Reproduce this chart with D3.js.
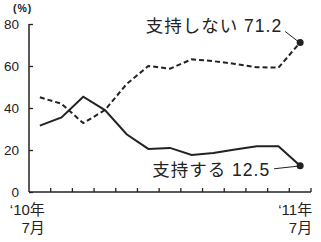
<!DOCTYPE html>
<html>
<head>
<meta charset="utf-8">
<script src="https://cdn.jsdelivr.net/npm/d3@7"></script>
<style>
  body { margin: 0; background: #fff; }
  text { font-family: "Liberation Sans", "Noto Sans CJK JP", sans-serif; fill: #222; }
</style>
</head>
<body>
<div id="chart"></div>
<script>
// monthly poll, Jul 2010 -> Jul 2011
var months = ['2010-07','2010-08','2010-09','2010-10','2010-11','2010-12','2011-01',
              '2011-02','2011-03','2011-04','2011-05','2011-06','2011-07'];
var support = [31.6, 35.5, 45.4, 39, 27.5, 20.5, 21, 17.6, 18.6, 20.2, 21.8, 21.8, 12.5];
var oppose  = [45.1, 42, 32.8, 39, 51.4, 60, 58.7, 63.2, 62.3, 61, 59.4, 59.2, 71.2];
var yTicks = [0, 20, 40, 60, 80];

var svgWidth = 321, svgHeight = 242;
var margin = { top: 24, right: 10, bottom: 50, left: 29 };
var width = svgWidth - margin.left - margin.right;
var height = svgHeight - margin.top - margin.bottom;

var svg = d3.select('#chart').append('svg')
  .attr('width', svgWidth)
  .attr('height', svgHeight);

var chart = svg.append('g')
  .attr('transform', `translate(${margin.left}, ${margin.top})`);

// band per month, points sit in the middle of each band
var x = d3.scaleBand().domain(months).range([0, width]);
var xPos = d => x(d) + x.bandwidth() / 2;
var y = d3.scaleLinear().domain([0, 80]).range([height, 0]);

// y axis, ticks point inward
var yAxis = chart.append('g')
  .call(d3.axisLeft(y).tickValues(yTicks).tickSize(-4).tickPadding(10));
yAxis.select('.domain').attr('d', `M0,0V${height}`).attr('stroke', '#222').attr('stroke-width', 1.5);
yAxis.selectAll('.tick line').attr('stroke', '#222').attr('stroke-width', 1.3);
yAxis.selectAll('.tick text').attr('font-size', '13.5px').attr('fill', '#222');

// x axis, tick marks on month boundaries
var bounds = months.map(m => x(m)).concat([width]);
var xAxis = chart.append('g').attr('transform', `translate(0,${height})`);
xAxis.append('line')
  .attr('x1', 0).attr('x2', width)
  .attr('stroke', '#222').attr('stroke-width', 1.5);
xAxis.selectAll('.xt').data(bounds.slice(1)).enter().append('line')
  .attr('x1', d => d).attr('x2', d => d)
  .attr('y1', 0).attr('y2', -4)
  .attr('stroke', '#222').attr('stroke-width', 1.3);

// month labels at both ends
var first = xPos(months[0]), last = xPos(months[months.length - 1]);
[[first + 5, '‘10年', '7月'], [last + 12, '‘11年', '7月']].forEach(function(l) {
  xAxis.append('text').attr('x', l[0]).attr('y', 23)
    .attr('text-anchor', 'end').attr('font-size', '15px').text(l[1]);
  xAxis.append('text').attr('x', l[0]).attr('y', 41)
    .attr('text-anchor', 'end').attr('font-size', '15px').text(l[2]);
});

svg.append('text')
  .attr('x', 13).attr('y', 12)
  .attr('font-size', '10.5px').attr('font-weight', 'bold')
  .attr('letter-spacing', '1px')
  .text('(%)');

var line = d3.line().x((d, i) => xPos(months[i])).y(d => y(d));

chart.append('path').datum(oppose)
  .attr('d', line)
  .attr('fill', 'none').attr('stroke', '#222')
  .attr('stroke-width', 2).attr('stroke-dasharray', '5,3');

chart.append('path').datum(support)
  .attr('d', line)
  .attr('fill', 'none').attr('stroke', '#222')
  .attr('stroke-width', 2);

// end dots + labels
var lastOppose = oppose[oppose.length - 1], lastSupport = support[support.length - 1];
chart.append('circle').attr('cx', last).attr('cy', y(lastOppose)).attr('r', 3.5).attr('fill', '#222');
chart.append('circle').attr('cx', last).attr('cy', y(lastSupport)).attr('r', 3.5).attr('fill', '#222');

chart.append('line')
  .attr('x1', last - 15).attr('y1', y(lastOppose) - 11)
  .attr('x2', last - 2).attr('y2', y(lastOppose) - 1)
  .attr('stroke', '#222').attr('stroke-width', 1);
chart.append('line')
  .attr('x1', last - 26).attr('y1', y(lastSupport) + 3)
  .attr('x2', last - 3).attr('y2', y(lastSupport) + 0.5)
  .attr('stroke', '#222').attr('stroke-width', 1);

chart.append('text')
  .attr('x', last - 18).attr('y', y(lastOppose) - 10)
  .attr('text-anchor', 'end').attr('font-size', '17.5px')
  .attr('letter-spacing', '1px')
  .text('支持しない ' + lastOppose);
chart.append('text')
  .attr('x', last - 30).attr('y', y(lastSupport) + 10)
  .attr('text-anchor', 'end').attr('font-size', '17.5px')
  .attr('letter-spacing', '1px')
  .text('支持する ' + lastSupport);
</script>
</body>
</html>
